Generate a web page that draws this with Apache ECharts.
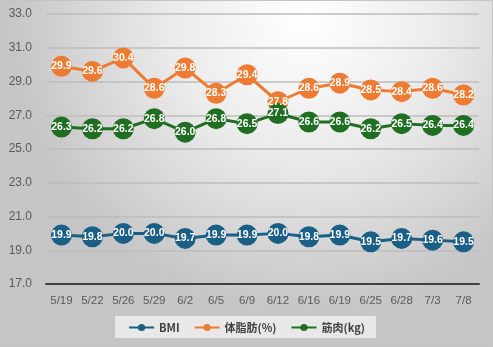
<!DOCTYPE html>
<html>
<head>
<meta charset="utf-8">
<script src="https://cdn.jsdelivr.net/npm/echarts@6/dist/echarts.min.js"></script>
<style>
  html, body { margin: 0; padding: 0; }
  #chart { width: 493px; height: 347px; box-sizing: border-box; border: 1px solid #c4c4c4; }
</style>
</head>
<body>
<div id="chart"></div>
<script>
// Body composition log: dates and measured values
const dates = ['5/19', '5/22', '5/26', '5/29', '6/2', '6/5', '6/9', '6/12', '6/16', '6/19', '6/25', '6/28', '7/3', '7/8'];
const bmi = [19.9, 19.8, 20.0, 20.0, 19.7, 19.9, 19.9, 20.0, 19.8, 19.9, 19.5, 19.7, 19.6, 19.5];
const bodyFat = [29.9, 29.6, 30.4, 28.6, 29.8, 28.3, 29.4, 27.8, 28.6, 28.9, 28.5, 28.4, 28.6, 28.2];
const muscle = [26.3, 26.2, 26.2, 26.8, 26.0, 26.8, 26.5, 27.1, 26.6, 26.6, 26.2, 26.5, 26.4, 26.4];
const yTicks = { min: 17, max: 33, interval: 2 };

const colors = { bmi: '#1a5f85', fat: '#ed7b31', muscle: '#1f6e22' };

function lineSeries(name, data, color) {
  return {
    name: name,
    type: 'line',
    data: data,
    symbol: 'circle',
    symbolSize: 21,
    lineStyle: { width: 3, color: color },
    itemStyle: { color: color },
    label: {
      show: true,
      position: 'inside',
      color: '#ffffff',
      fontWeight: 'bold',
      fontSize: 10.5,
      fontFamily: 'Liberation Sans, Arial, sans-serif',
      formatter: p => p.value.toFixed(1)
    },
    emphasis: { disabled: true }
  };
}

const chart = echarts.init(document.getElementById('chart'));
chart.setOption({
  animation: false,
  backgroundColor: {
    type: 'radial', x: 0.62, y: 0.05, r: 0.85,
    colorStops: [
      { offset: 0, color: '#ffffff' },
      { offset: 0.45, color: '#ececec' },
      { offset: 1, color: '#c6c6c6' }
    ]
  },
  grid: { left: 45, right: 13, top: 13, bottom: 62 },
  legend: {
    bottom: 8,
    left: 'center',
    backgroundColor: '#e8e8e8',
    padding: [6, 11, 5, 13],
    itemWidth: 25,
    itemHeight: 9,
    itemGap: 14,
    textStyle: { color: '#404040', fontSize: 11, fontWeight: 'bold', fontFamily: '"Noto Sans CJK JP", sans-serif' },
    data: ['BMI', '体脂肪(%)', '筋肉(kg)']
  },
  xAxis: {
    type: 'category',
    data: dates,
    boundaryGap: true,
    axisLine: { lineStyle: { color: '#404040', width: 2 } },
    axisTick: { show: false },
    axisLabel: { color: '#595959', fontSize: 11.5, margin: 11, fontFamily: 'Liberation Sans, Arial, sans-serif' }
  },
  yAxis: {
    type: 'value',
    min: yTicks.min,
    max: yTicks.max,
    interval: yTicks.interval,
    axisLine: { show: false },
    axisTick: { show: false },
    splitLine: { lineStyle: { color: '#bdbdbd', width: 1.5 } },
    axisLabel: { color: '#595959', fontSize: 12, margin: 14, fontFamily: 'Liberation Sans, Arial, sans-serif', formatter: v => v.toFixed(1) }
  },
  series: [
    lineSeries('BMI', bmi, colors.bmi),
    lineSeries('体脂肪(%)', bodyFat, colors.fat),
    lineSeries('筋肉(kg)', muscle, colors.muscle)
  ]
});
</script>
</body>
</html>
